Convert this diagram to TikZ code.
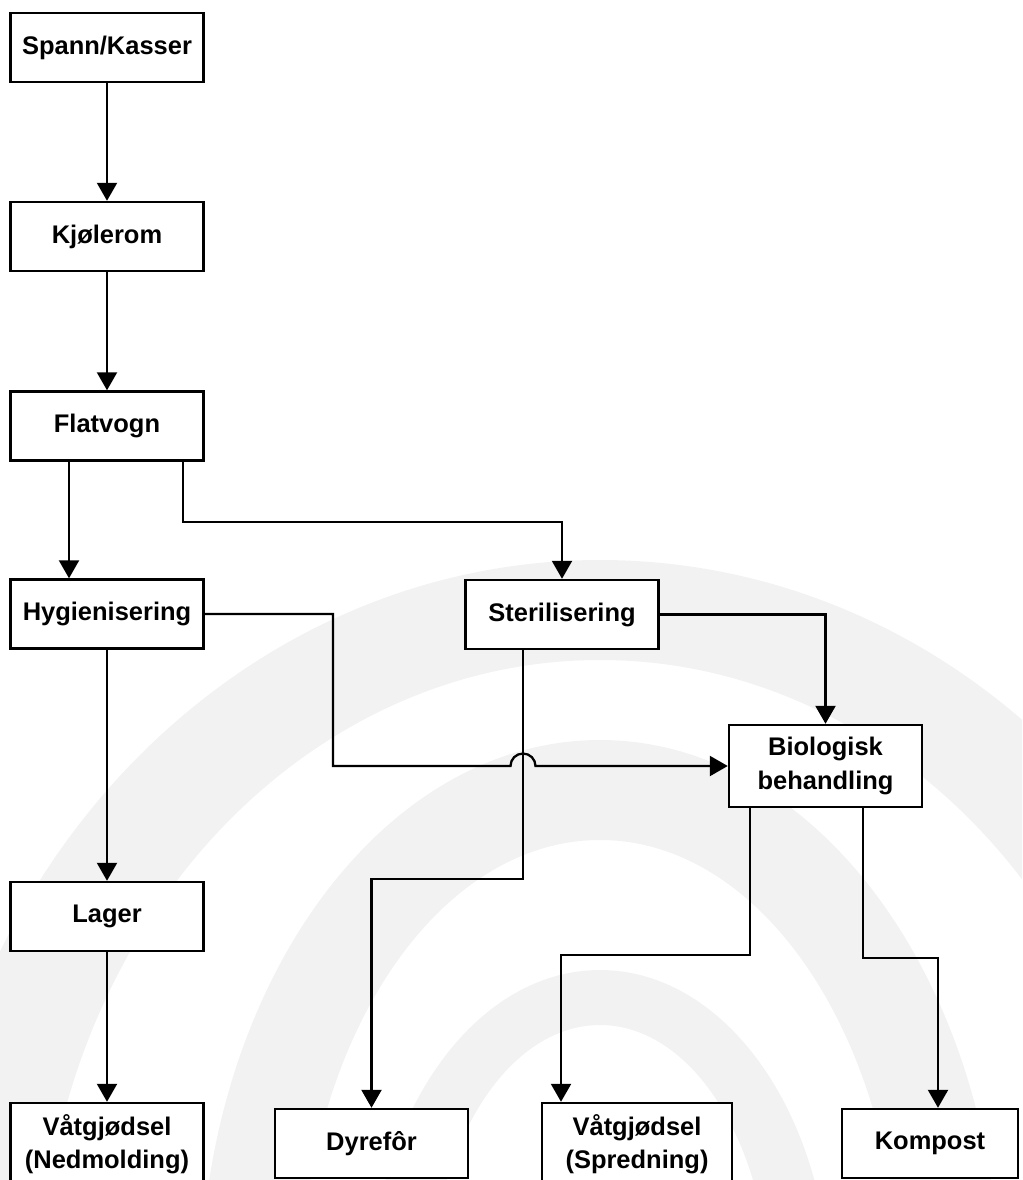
\documentclass[tikz,border=0pt]{standalone}
\usepackage{fontspec}
\setmainfont{Liberation Sans}
\usetikzlibrary{arrows.meta}

\begin{document}
\begin{tikzpicture}[x=0.02cm, y=-0.02cm,
  box/.style={draw, line width=1.4pt, fill=white, minimum width=3.86cm, minimum height=1.38cm,
    inner sep=0pt, align=center, font=\fontsize{14.5}{19}\selectfont\bfseries},
  tallbox/.style={box, minimum height=1.64cm},
  flow/.style={line width=1.3pt, -{Triangle[width=0.4cm,length=0.36cm]}},
  band/.style={fill=black!5, even odd rule}]
\useasboundingbox (0,0) rectangle (1022,1180);
\clip (0,0) rectangle (1022,1180);
% faint logo in the background
\fill[band] (600,1300) ellipse [x radius=680, y radius=740] (600,1300) ellipse [x radius=560, y radius=640];
\fill[band] (600,1300) ellipse [x radius=400, y radius=560] (600,1300) ellipse [x radius=300, y radius=460];
\fill[band] (600,1300) ellipse [x radius=230, y radius=330] (600,1300) ellipse [x radius=170, y radius=275];
% boxes
\node[box] (spann) at (107,47.5) {Spann/Kasser};
\node[box] (kjol) at (107,236.5) {Kjølerom};
\node[box] (flat) at (107,426) {Flatvogn};
\node[box] (hyg) at (107,614) {Hygienisering};
\node[box] (steril) at (562,614.5) {Sterilisering};
\node[tallbox] (bio) at (825.5,766) {Biologisk\\behandling};
\node[box] (lager) at (107,916.5) {Lager};
\node[tallbox] (nedm) at (107,1144) {Våtgjødsel\\(Nedmolding)};
\node[box] (dyr) at (371.5,1143.5) {Dyrefôr};
\node[tallbox, minimum width=3.8cm] (spred) at (637,1144) {Våtgjødsel\\(Spredning)};
\node[box, minimum width=3.52cm] (komp) at (930,1143.5) {Kompost};
% connectors
\draw[flow] (spann) -- (kjol);
\draw[flow] (kjol) -- (flat);
\draw[flow] ([xshift=-0.76cm]flat.south) -- ([xshift=-0.76cm]hyg.north);
\draw[flow] ([xshift=1.52cm]flat.south) -- ++(0,60) -| (steril.north);
\draw[flow] (hyg) -- (lager);
\draw[flow] (lager) -- (nedm);
\draw[flow] (steril.east) -| (bio.north);
\draw[flow] ([xshift=-0.78cm]steril.south) -- ++(0,229) -| (dyr.north);
\draw[flow] (hyg.east) -| (333,766) -- (510.5,766) arc[start angle=180, end angle=0, radius=0.25cm] -- (bio.west);
\draw[flow] ([xshift=-1.51cm]bio.south) -- ++(0,147) -| ([xshift=-1.52cm]spred.north);
\draw[flow] ([xshift=0.75cm]bio.south) -- ++(0,150) -| ([xshift=0.16cm]komp.north);
\end{tikzpicture}
\end{document}
